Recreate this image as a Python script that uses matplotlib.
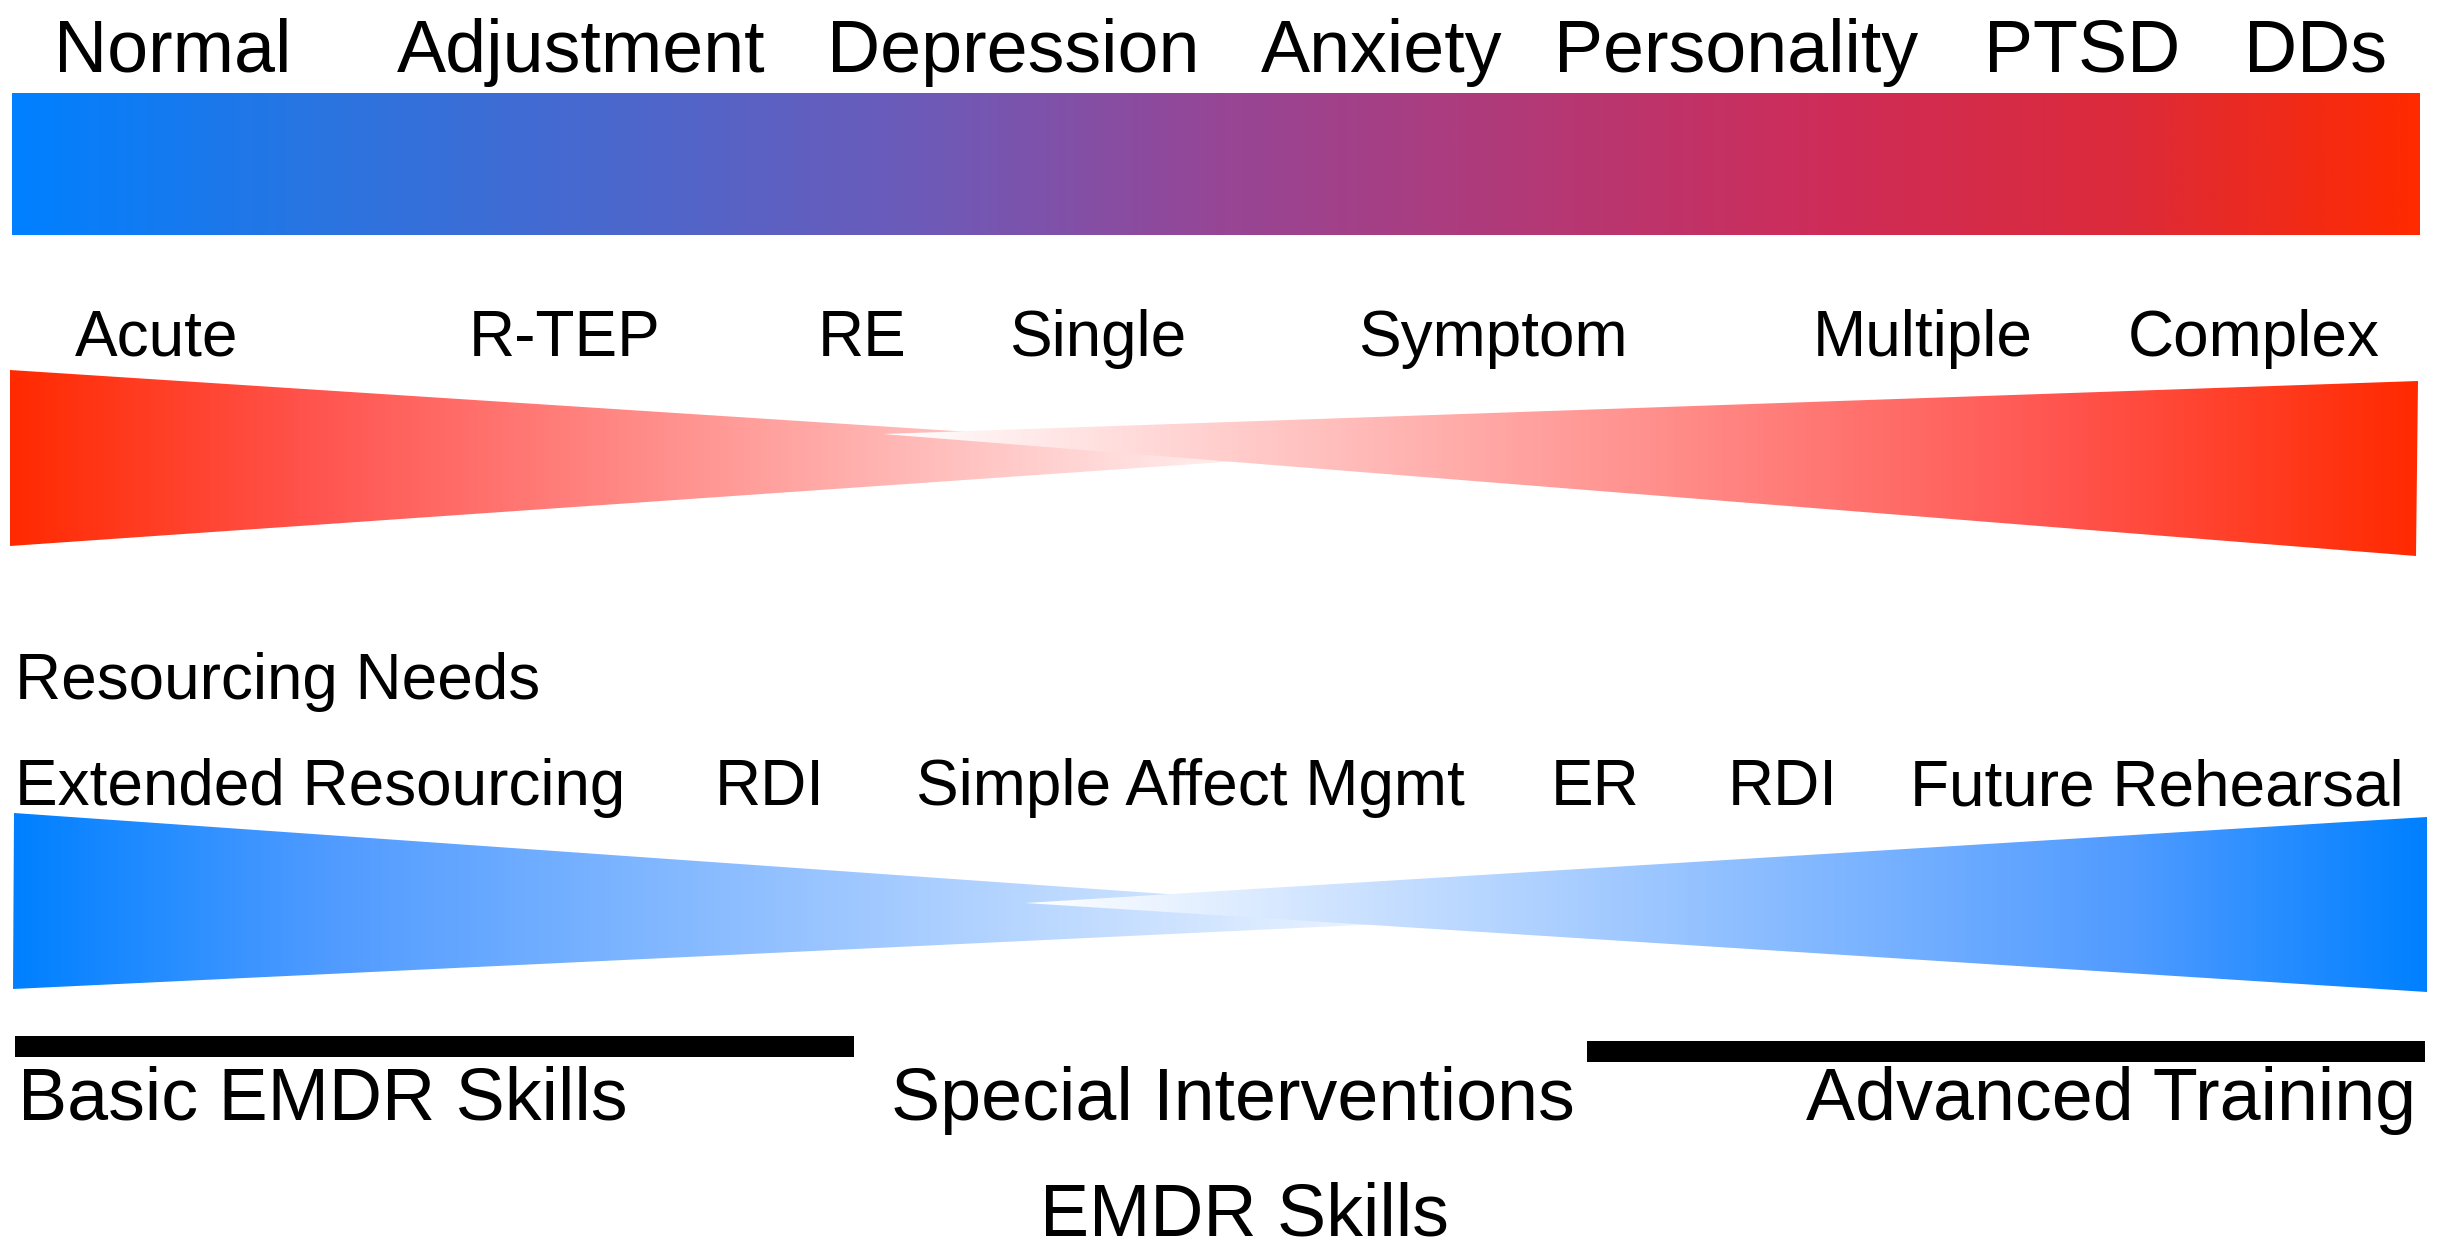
import numpy as np
import matplotlib
matplotlib.use("Agg")
import matplotlib.pyplot as plt
from matplotlib.patches import Polygon, Rectangle
from matplotlib.colors import LinearSegmentedColormap

W, H = 2444, 1245

# Diagnosis spectrum (top bar)
disorders = ["Normal", "Adjustment", "Depression", "Anxiety", "Personality", "PTSD", "DDs"]
disorder_x = [173, 581, 1013, 1382, 1736, 2082, 2316]

# Trauma types (red wedges)
trauma = ["Acute", "R-TEP", "RE", "Single", "Symptom", "Multiple", "Complex"]
trauma_x = [157, 565, 862, 1098, 1493, 1923, 2254]

# Resourcing needs (blue wedges)
resourcing = ["Extended Resourcing", "RDI", "Simple Affect Mgmt", "ER", "RDI", "Future Rehearsal"]
resourcing_x = [320, 770, 1190, 1595, 1783, 2157]

# Skill levels (bottom)
skills = ["Basic EMDR Skills", "Special Interventions", "Advanced Training"]
skills_x = [323, 1233, 2111]

FONT = "Liberation Sans"

# colour ramps
spectrum = LinearSegmentedColormap.from_list("spectrum", [
    (0.0, "#0080ff"), (0.13, "#2b74e0"), (0.38, "#6e5ab8"), (0.5, "#964696"),
    (0.75, "#cd2d5a"), (0.88, "#dc2a3a"), (1.0, "#ff2a00")])
red_fade = LinearSegmentedColormap.from_list("red_fade", [
    (0.0, "#ff2a00"), (0.235, "#ff5550"), (1.0, "#ffffff")])
blue_fade = LinearSegmentedColormap.from_list("blue_fade", [
    (0.0, "#0080ff"), (0.21, "#509bff"), (1.0, "#ffffff")])


def gradient_fill(ax, pts, cmap, x_start, x_end):
    # fill a polygon with a horizontal gradient, clipped to its shape
    poly = Polygon(pts, closed=True, facecolor="none", edgecolor="none")
    ax.add_patch(poly)
    xs = [p[0] for p in pts]
    ys = [p[1] for p in pts]
    x0, x1 = min(xs), max(xs)
    cols = np.linspace(x0, x1, 800)
    t = np.clip((cols - x_start) / (x_end - x_start), 0, 1)
    img = cmap(t)[None, :, :3]
    im = ax.imshow(img, extent=[x0, x1, max(ys), min(ys)], aspect="auto",
                   interpolation="bilinear")
    im.set_clip_path(poly)
    return im


fig = plt.figure(figsize=(W / 100, H / 100), dpi=100)
ax = fig.add_axes([0, 0, 1, 1])

# top spectrum bar
bar = [(12, 93), (2420, 93), (2420, 235), (12, 235)]
gradient_fill(ax, bar, spectrum, 12, 2420)

# red wedges (right one drawn over the left)
red_left = [(10, 370), (10, 546), (1326, 455)]
red_right = [(883, 434), (2418, 381), (2416, 556)]
gradient_fill(ax, red_left, red_fade, 10, 1326)
gradient_fill(ax, red_right, red_fade, 2418, 883)

# blue wedges
blue_left = [(14, 813), (13, 989), (1508, 918)]
blue_right = [(1025, 903), (2427, 817), (2427, 992)]
gradient_fill(ax, blue_left, blue_fade, 13, 1508)
gradient_fill(ax, blue_right, blue_fade, 2427, 1025)

# black bars over basic / advanced
ax.add_patch(Rectangle((15, 1036), 839, 21, color="black", lw=0))
ax.add_patch(Rectangle((1587, 1041), 838, 21, color="black", lw=0))

for lab, x in zip(disorders, disorder_x):
    ax.text(x, 72, lab, ha="center", va="baseline", fontsize=53, family=FONT)
for lab, x in zip(trauma, trauma_x):
    ax.text(x, 356, lab, ha="center", va="baseline", fontsize=46, family=FONT)
ax.text(15, 699, "Resourcing Needs", ha="left", va="baseline", fontsize=46, family=FONT)
for lab, x in zip(resourcing, resourcing_x):
    ax.text(x, 805, lab, ha="center", va="baseline", fontsize=46, family=FONT)
for lab, x in zip(skills, skills_x):
    ax.text(x, 1120, lab, ha="center", va="baseline", fontsize=53, family=FONT)
ax.text(1244, 1235, "EMDR Skills", ha="center", va="baseline", fontsize=53, family=FONT)

ax.set_xlim(0, W)
ax.set_ylim(H, 0)
ax.axis("off")

fig.savefig("out.png", dpi=100, facecolor="white")
